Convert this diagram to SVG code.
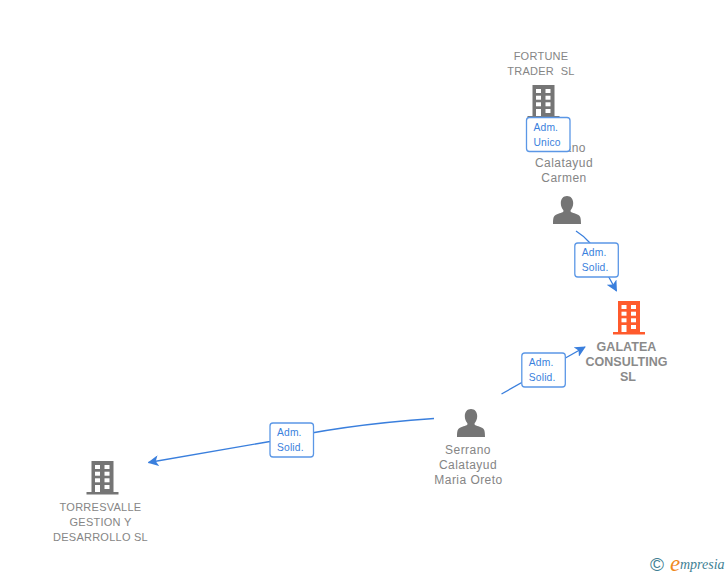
<svg xmlns="http://www.w3.org/2000/svg" width="728" height="575" viewBox="0 0 728 575">
<style>
text{font-family:"Liberation Sans",Arial,sans-serif}
.n{font-size:12px;letter-spacing:.45px;fill:#858585;text-anchor:middle}
.c{font-size:11px;letter-spacing:.25px;fill:#858585;text-anchor:middle}
.m{font-size:12.500px;font-weight:bold;letter-spacing:.05px;fill:#8a8a8a;text-anchor:middle}
.l{fill:none;stroke:#3a7fdd;stroke-width:1.300}
.b{fill:#fff;stroke:#5b97e6;stroke-width:1.300}
.t{font-size:10.300px;letter-spacing:.15px;fill:#3a7fdd}
</style>
<defs>
<symbol id="bld" viewBox="0 0 32 34" width="32" height="34" overflow="visible">
<path fill="currentColor" d="M5 0h22v31h5v2.500H0V31h5z"/>
<g fill="#fff">
<rect x="8.500" y="4" width="5" height="4"/><rect x="18" y="4" width="5" height="4"/>
<rect x="8.500" y="10.700" width="5" height="4"/><rect x="18" y="10.700" width="5" height="4"/>
<rect x="8.500" y="17.300" width="5" height="4"/><rect x="18" y="17.300" width="5" height="4"/>
<rect x="8.500" y="24" width="5" height="7"/><rect x="18" y="24" width="5" height="4"/>
</g>
</symbol>
<symbol id="per" viewBox="0 0 28 28" width="28" height="28" overflow="visible">
<path fill="#757575" d="M14 0c3.800 0 6.200 2.800 6.200 7 0 3-1 5.500-2.600 7.200v1.300c0 1 4.600 1.800 7.400 3.200 2.200 1.100 3 2.800 3 9.300H0c0-6.500.8-8.200 3-9.300 2.800-1.400 7.400-2.200 7.400-3.200v-1.300C8.800 12.500 7.800 10 7.800 7 7.800 2.800 10.200 0 14 0z"/>
</symbol>
<marker id="a" viewBox="0 0 12 12" refX="11" refY="6" markerWidth="11" markerHeight="11" markerUnits="userSpaceOnUse" orient="auto"><path d="M0 0L12 6L0 12L3 6z" fill="#3a7fdd"/></marker>
</defs>
<g id="connectors">
<path class="l" d="M576 231Q584 236 590 243L616.500 291" marker-end="url(#a)"/>
<path class="l" d="M501.500 394L585 347" marker-end="url(#a)"/>
<path class="l" d="M434 418.500Q340 425 270 441.500L148.500 462.500" marker-end="url(#a)"/>
</g>
<g id="node-carmen">
<text class="n" x="563" y="152">Serrano</text>
<text class="n" x="564" y="167">Calatayud</text>
<text class="n" x="564" y="182">Carmen</text>
<use href="#per" x="553" y="196"/>
</g>
<g id="node-fortune">
<text class="c" x="541" y="60">FORTUNE</text>
<text class="c" x="541" y="75" xml:space="preserve">TRADER  SL</text>
<use href="#bld" x="527.500" y="85" color="#757575"/>
</g>
<g id="node-galatea">
<use href="#bld" x="613" y="301" color="#ff5a2c"/>
<text class="m" x="626.500" y="351">GALATEA</text>
<text class="m" x="626.500" y="366">CONSULTING</text>
<text class="m" x="628" y="381">SL</text>
</g>
<g id="node-oreto">
<use href="#per" x="457" y="409"/>
<text class="n" x="468" y="454">Serrano</text>
<text class="n" x="468" y="469">Calatayud</text>
<text class="n" x="468.500" y="484">Maria Oreto</text>
</g>
<g id="node-torresvalle">
<use href="#bld" x="86.500" y="461" color="#757575"/>
<text class="c" x="100.500" y="511">TORRESVALLE</text>
<text class="c" x="100.500" y="526">GESTION Y</text>
<text class="c" x="100.500" y="541">DESARROLLO SL</text>
</g>
<g id="label-unico">
<rect class="b" x="526.500" y="117.500" width="43.500" height="34" rx="3"/>
<text class="t" x="533.500" y="131">Adm.</text><text class="t" x="533.500" y="146">Unico</text>
</g>
<g id="label-solid-1">
<rect class="b" x="574.800" y="243" width="43.500" height="34" rx="3"/>
<text class="t" x="581.800" y="256">Adm.</text><text class="t" x="581.800" y="271">Solid.</text>
</g>
<g id="label-solid-2">
<rect class="b" x="521.800" y="353" width="43.500" height="34" rx="3"/>
<text class="t" x="528.800" y="366">Adm.</text><text class="t" x="528.800" y="381">Solid.</text>
</g>
<g id="label-solid-3">
<rect class="b" x="270" y="423" width="43.500" height="34" rx="3"/>
<text class="t" x="277" y="436">Adm.</text><text class="t" x="277" y="451">Solid.</text>
</g>
<g id="logo">
<text x="650" y="570.500" font-size="19" fill="#3f7f94">©</text>
<text x="670" y="571" font-size="23" font-style="italic" fill="#f08a1c" style="font-family:'Liberation Serif',serif">e</text>
<text x="680" y="569" font-size="14" font-style="italic" fill="#3f7f94" style="font-family:'Liberation Serif',serif">mpresia</text>
</g>
</svg>
